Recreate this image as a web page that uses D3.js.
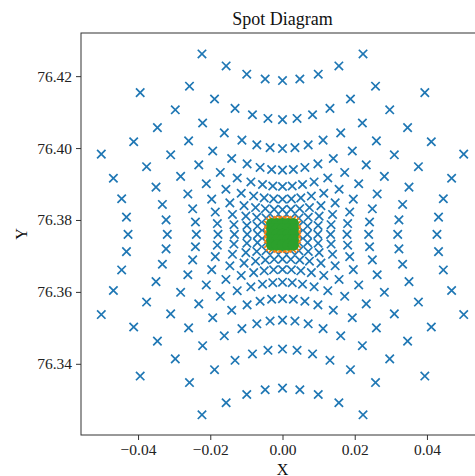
<!DOCTYPE html>
<html>
<head>
<meta charset="utf-8">
<script src="https://cdn.jsdelivr.net/npm/d3@7"></script>
<style>
  body { margin: 0; background: #fff; }
  svg { display: block; font-family: "Liberation Serif", "Times New Roman", serif; }
</style>
</head>
<body>
<div id="chart"></div>
<script>
// Tick values
const xTicks = [-0.04, -0.02, 0, 0.02, 0.04]
const yTicks = [76.34, 76.36, 76.38, 76.40, 76.42]

// Traced rays (blue x markers), one image row per line, top to bottom
const rayX = [
  -0.02230,-0.01561,-0.00990,-0.00480,0,0.00480,0.00990,0.01561,0.02230,
  -0.02576,-0.01882,-0.01314,-0.00832,-0.00403,0,0.00403,0.00832,0.01314,0.01882,0.02576,
  -0.03941,-0.02969,-0.02212,-0.01612,-0.01124,-0.00711,-0.00344,0,0.00344,0.00711,0.01124,0.01612,0.02212,0.02969,0.03941,
  -0.03464,-0.02600,-0.01933,-0.01407,-0.00980,-0.00620,-0.00301,0,0.00301,0.00620,0.00980,0.01407,0.01933,0.02600,0.03464,
  -0.04121,-0.03097,-0.02319,-0.01722,-0.01254,-0.00875,-0.00554,-0.00269,0,0.00269,0.00554,0.00875,0.01254,0.01722,0.02319,0.03097,0.04121,
  -0.05018,-0.03764,-0.02821,-0.02110,-0.01567,-0.01143,-0.00799,-0.00507,-0.00246,0,0.00246,0.00507,0.00799,0.01143,0.01567,0.02110,0.02821,0.03764,0.05018,
  -0.04683,-0.03503,-0.02622,-0.01961,-0.01458,-0.01065,-0.00746,-0.00475,-0.00231,0,0.00231,0.00475,0.00746,0.01065,0.01458,0.01961,0.02622,0.03503,0.04683,
  -0.04454,-0.03326,-0.02488,-0.01861,-0.01386,-0.01014,-0.00713,-0.00454,-0.00221,0,0.00221,0.00454,0.00713,0.01014,0.01386,0.01861,0.02488,0.03326,0.04454,
  -0.04321,-0.03224,-0.02411,-0.01804,-0.01345,-0.00986,-0.00694,-0.00443,-0.00216,0,0.00216,0.00443,0.00694,0.00986,0.01345,0.01804,0.02411,0.03224,0.04321,
  -0.04277,-0.03190,-0.02386,-0.01786,-0.01331,-0.00977,-0.00688,-0.00439,-0.00214,0,0.00214,0.00439,0.00688,0.00977,0.01331,0.01786,0.02386,0.03190,0.04277,
  -0.04321,-0.03224,-0.02411,-0.01804,-0.01345,-0.00986,-0.00694,-0.00443,-0.00216,0,0.00216,0.00443,0.00694,0.00986,0.01345,0.01804,0.02411,0.03224,0.04321,
  -0.04454,-0.03326,-0.02488,-0.01861,-0.01386,-0.01014,-0.00713,-0.00454,-0.00221,0,0.00221,0.00454,0.00713,0.01014,0.01386,0.01861,0.02488,0.03326,0.04454,
  -0.04683,-0.03503,-0.02622,-0.01961,-0.01458,-0.01065,-0.00746,-0.00475,-0.00231,0,0.00231,0.00475,0.00746,0.01065,0.01458,0.01961,0.02622,0.03503,0.04683,
  -0.05018,-0.03764,-0.02821,-0.02110,-0.01567,-0.01143,-0.00799,-0.00507,-0.00246,0,0.00246,0.00507,0.00799,0.01143,0.01567,0.02110,0.02821,0.03764,0.05018,
  -0.04121,-0.03097,-0.02319,-0.01722,-0.01254,-0.00875,-0.00554,-0.00269,0,0.00269,0.00554,0.00875,0.01254,0.01722,0.02319,0.03097,0.04121,
  -0.03464,-0.02600,-0.01933,-0.01407,-0.00980,-0.00620,-0.00301,0,0.00301,0.00620,0.00980,0.01407,0.01933,0.02600,0.03464,
  -0.03941,-0.02969,-0.02212,-0.01612,-0.01124,-0.00711,-0.00344,0,0.00344,0.00711,0.01124,0.01612,0.02212,0.02969,0.03941,
  -0.02576,-0.01882,-0.01314,-0.00832,-0.00403,0,0.00403,0.00832,0.01314,0.01882,0.02576,
  -0.02230,-0.01561,-0.00990,-0.00480,0,0.00480,0.00990,0.01561,0.02230
]
const rayY = [
  76.42618,76.42283,76.42054,76.41921,76.41877,76.41921,76.42054,76.42283,76.42618,
  76.41721,76.41364,76.41103,76.40926,76.40824,76.40790,76.40824,76.40926,76.41103,76.41364,76.41721,
  76.41541,76.41064,76.40697,76.40421,76.40222,76.40088,76.40011,76.39986,76.40011,76.40088,76.40222,76.40421,76.40697,76.41064,76.41541,
  76.40569,76.40200,76.39919,76.39710,76.39561,76.39461,76.39404,76.39386,76.39404,76.39461,76.39561,76.39710,76.39919,76.40200,76.40569,
  76.40176,76.39812,76.39533,76.39322,76.39167,76.39058,76.38986,76.38945,76.38931,76.38945,76.38986,76.39058,76.39167,76.39322,76.39533,76.39812,76.40176,
  76.39830,76.39482,76.39212,76.39007,76.38854,76.38743,76.38665,76.38614,76.38586,76.38577,76.38586,76.38614,76.38665,76.38743,76.38854,76.39007,76.39212,76.39482,76.39830,
  76.39161,76.38914,76.38724,76.38580,76.38475,76.38399,76.38346,76.38313,76.38294,76.38288,76.38294,76.38313,76.38346,76.38399,76.38475,76.38580,76.38724,76.38914,76.39161,
  76.38590,76.38432,76.38311,76.38220,76.38154,76.38107,76.38075,76.38054,76.38043,76.38039,76.38043,76.38054,76.38075,76.38107,76.38154,76.38220,76.38311,76.38432,76.38590,
  76.38080,76.38003,76.37944,76.37901,76.37869,76.37846,76.37831,76.37821,76.37816,76.37814,76.37816,76.37821,76.37831,76.37846,76.37869,76.37901,76.37944,76.38003,76.38080,
  76.37600,76.37600,76.37600,76.37600,76.37600,76.37600,76.37600,76.37600,76.37600,76.37600,76.37600,76.37600,76.37600,76.37600,76.37600,76.37600,76.37600,76.37600,76.37600,
  76.37120,76.37197,76.37256,76.37299,76.37331,76.37354,76.37369,76.37379,76.37384,76.37386,76.37384,76.37379,76.37369,76.37354,76.37331,76.37299,76.37256,76.37197,76.37120,
  76.36610,76.36768,76.36889,76.36980,76.37046,76.37093,76.37125,76.37146,76.37157,76.37161,76.37157,76.37146,76.37125,76.37093,76.37046,76.36980,76.36889,76.36768,76.36610,
  76.36039,76.36286,76.36476,76.36620,76.36725,76.36801,76.36854,76.36887,76.36906,76.36912,76.36906,76.36887,76.36854,76.36801,76.36725,76.36620,76.36476,76.36286,76.36039,
  76.35370,76.35718,76.35988,76.36193,76.36346,76.36457,76.36535,76.36586,76.36614,76.36623,76.36614,76.36586,76.36535,76.36457,76.36346,76.36193,76.35988,76.35718,76.35370,
  76.35024,76.35388,76.35667,76.35878,76.36033,76.36142,76.36214,76.36255,76.36269,76.36255,76.36214,76.36142,76.36033,76.35878,76.35667,76.35388,76.35024,
  76.34631,76.35000,76.35281,76.35490,76.35639,76.35739,76.35796,76.35814,76.35796,76.35739,76.35639,76.35490,76.35281,76.35000,76.34631,
  76.33659,76.34136,76.34503,76.34779,76.34978,76.35112,76.35189,76.35214,76.35189,76.35112,76.34978,76.34779,76.34503,76.34136,76.33659,
  76.33479,76.33836,76.34097,76.34274,76.34376,76.34410,76.34376,76.34274,76.34097,76.33836,76.33479,
  76.32582,76.32917,76.33146,76.33279,76.33323,76.33279,76.33146,76.32917,76.32582
]

// Second spot (orange x markers)
const orangeX = [-0.0026,-0.0013,0,0.0013,0.0026, -0.0026,-0.0013,0,0.0013,0.0026,
  -0.0039,-0.0039,-0.0039,-0.0039,-0.0039, 0.0039,0.0039,0.0039,0.0039,0.0039,
  -0.0034,0.0034,-0.0034,0.0034]
const orangeY = [76.3799,76.3799,76.3799,76.3799,76.3799, 76.3721,76.3721,76.3721,76.3721,76.3721,
  76.3734,76.3747,76.3760,76.3773,76.3786, 76.3734,76.3747,76.3760,76.3773,76.3786,
  76.3794,76.3794,76.3726,76.3726]

// Third spot (green dots)
const greenX = [-0.003,-0.0015,0,0.0015,0.003, -0.003,-0.0015,0,0.0015,0.003, -0.003,-0.0015,0,0.0015,0.003,
  -0.003,-0.0015,0,0.0015,0.003, -0.003,-0.0015,0,0.0015,0.003]
const greenY = [76.379,76.379,76.379,76.379,76.379, 76.3775,76.3775,76.3775,76.3775,76.3775,
  76.376,76.376,76.376,76.376,76.376, 76.3745,76.3745,76.3745,76.3745,76.3745,
  76.373,76.373,76.373,76.373,76.373]

// Margin convention (right edge of the axes falls outside the window)
const margin = { top: 33, right: -9, bottom: 41, left: 81 }
const width = 475 - margin.left - margin.right
const height = 476 - margin.top - margin.bottom

const svg = d3.select("#chart").append("svg")
    .attr("width", 475)
    .attr("height", 476)
  .append("g")
    .attr("transform", "translate(" + margin.left + "," + margin.top + ")")

const xScale = d3.scaleLinear().domain([-0.0558, 0.0558]).range([0, width])
const yScale = d3.scaleLinear().domain([76.3202, 76.4320]).range([height, 0])

const xMark = "M-4.2,-4.2L4.2,4.2M-4.2,4.2L4.2,-4.2"

// Blue rays
svg.append("g").selectAll("path")
  .data(d3.range(rayX.length))
  .join("path")
    .attr("d", xMark)
    .attr("transform", i => `translate(${xScale(rayX[i])},${yScale(rayY[i])})`)
    .attr("fill", "none")
    .attr("stroke", "#1f77b4")
    .attr("stroke-width", 1.7)

// Orange spot
svg.append("g").selectAll("path")
  .data(d3.range(orangeX.length))
  .join("path")
    .attr("d", xMark)
    .attr("transform", i => `translate(${xScale(orangeX[i])},${yScale(orangeY[i])})`)
    .attr("fill", "none")
    .attr("stroke", "#ff7f0e")
    .attr("stroke-width", 1.7)

// Green spot
svg.append("g").selectAll("circle")
  .data(d3.range(greenX.length))
  .join("circle")
    .attr("cx", i => xScale(greenX[i]))
    .attr("cy", i => yScale(greenY[i]))
    .attr("r", 5.6)
    .attr("fill", "#2ca02c")

// Axes
svg.append("g")
    .attr("transform", "translate(0," + height + ")")
    .call(d3.axisBottom(xScale).tickValues(xTicks).tickFormat(d3.format(".2f")).tickSize(5).tickPadding(4))
svg.append("g")
    .call(d3.axisLeft(yScale).tickValues(yTicks).tickFormat(d3.format(".2f")).tickSize(5).tickPadding(4))

svg.selectAll(".domain").remove()
svg.selectAll(".tick line").attr("stroke", "#333")
svg.selectAll(".tick text")
    .attr("fill", "#222")
    .style("font-size", "15.5px")
    .style("font-family", "'Liberation Serif', serif")

// Frame
svg.append("rect")
    .attr("width", width)
    .attr("height", height)
    .attr("fill", "none")
    .attr("stroke", "#333")
    .attr("stroke-width", 1)

// Title and labels
svg.append("text")
    .attr("x", width / 2)
    .attr("y", -8)
    .attr("text-anchor", "middle")
    .style("font-size", "18px")
    .attr("fill", "#111")
    .text("Spot Diagram")

svg.append("text")
    .attr("x", width / 2)
    .attr("y", height + 39.5)
    .attr("text-anchor", "middle")
    .style("font-size", "16px")
    .attr("fill", "#111")
    .text("X")

svg.append("text")
    .attr("transform", "translate(" + (27 - margin.left) + "," + (234 - margin.top) + ") rotate(-90)")
    .attr("text-anchor", "middle")
    .style("font-size", "16px")
    .attr("fill", "#111")
    .text("Y")
</script>
</body>
</html>
